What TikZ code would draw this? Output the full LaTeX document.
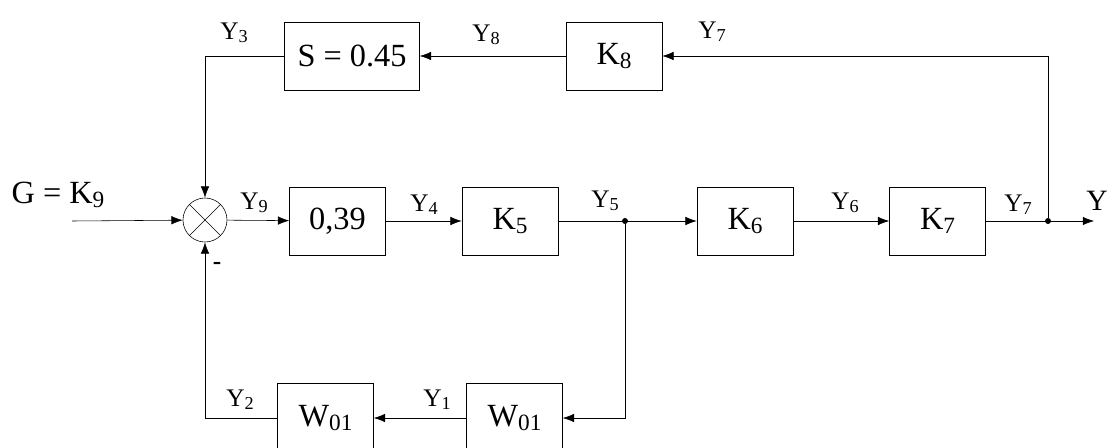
\documentclass[tikz,border=0pt]{standalone}
\usepackage{fontspec}
\setmainfont{Liberation Serif}
\usetikzlibrary{arrows.meta,positioning,calc}
\newcommand{\ix}[1]{\raisebox{-0.25ex}{\scalebox{0.72}{#1}}}
\tikzset{
    -{Latex[length=8pt,width=6pt]},line width=1.1pt,x=0.025cm,y=-0.025cm,
    block/.style ={rectangle, draw, minimum width=2.4cm, minimum height=1.7cm, inner sep=0pt, font=\fontsize{23}{26}\selectfont},
    summer/.style ={circle, draw, minimum size=1.1cm, inner sep=0pt},
    dot/.style = {circle, fill, inner sep=0pt, minimum size=0.15cm, node contents={}},
    lab/.style = {inner sep=0pt, font=\fontsize{18}{20}\selectfont}
}

\begin{document}
\begin{tikzpicture}
      \useasboundingbox (0,0) rectangle (1107,448);
      \clip (0,0) rectangle (1107,448);

      \node[block,minimum width=3.375cm] (s) at (352,56) {S = 0.45};
      \node[block] (k8) at (614,56) {K\ix{8}};
      \node[summer] (sum) at (205,220) {};
      \node[block] (b039) at (337.5,221) {0,39};
      \node[block] (k5) at (510,221) {K\ix{5}};
      \node[block] (k6) at (745,221) {K\ix{6}};
      \node[block] (k7) at (937.5,221) {K\ix{7}};
      \node[block,minimum height=1.75cm] (w1) at (514.5,418) {W\ix{01}};
      \node[block,minimum height=1.75cm] (w2) at (325.5,418) {W\ix{01}};

      \node (j5) at (625,221) [dot];
      \node (j7) at (1048,221) [dot];
      \coordinate (in) at (72,221);
      \coordinate (out) at (1094,221);

      \draw[-] (sum.north west) -- (sum.south east);
      \draw[-] (sum.north east) -- (sum.south west);

      \path (in) edge (sum);
      \path (sum) edge (b039);
      \path (b039) edge (k5);
      \path (k5) edge (k6);
      \path (k6) edge (k7);
      \path (k7.east) edge (out);

      \draw (j7) |- (k8);
      \path (k8) edge (s);
      \draw (s) -| (sum);
      \draw (j5) |- (w1);
      \path (w1) edge (w2);
      \draw (w2) -| (sum);

      % signal labels
      \node[lab] (g) at (58,195) {\fontsize{23}{26}\selectfont G = K\ix{9}};
      \node[lab] (y3) at (234,33) {Y\ix{3}};
      \node[lab] (y8) at (486,35) {Y\ix{8}};
      \node[lab] (y7a) at (712,32) {Y\ix{7}};
      \node[lab] (y9) at (254,203) {Y\ix{9}};
      \node[lab] (y4) at (424,205) {Y\ix{4}};
      \node[lab] (y5) at (605,201) {Y\ix{5}};
      \node[lab] (y6) at (845,203) {Y\ix{6}};
      \node[lab] (y7b) at (1018,205) {Y\ix{7}};
      \node[lab] (y) at (1097,201) {\fontsize{21}{24}\selectfont Y};
      \node[lab] (y2) at (240,400) {Y\ix{2}};
      \node[lab] (y1) at (437,400) {Y\ix{1}};
      \node[lab] (minus) at (217,266) {\textbf{-}};
\end{tikzpicture}
\end{document}
